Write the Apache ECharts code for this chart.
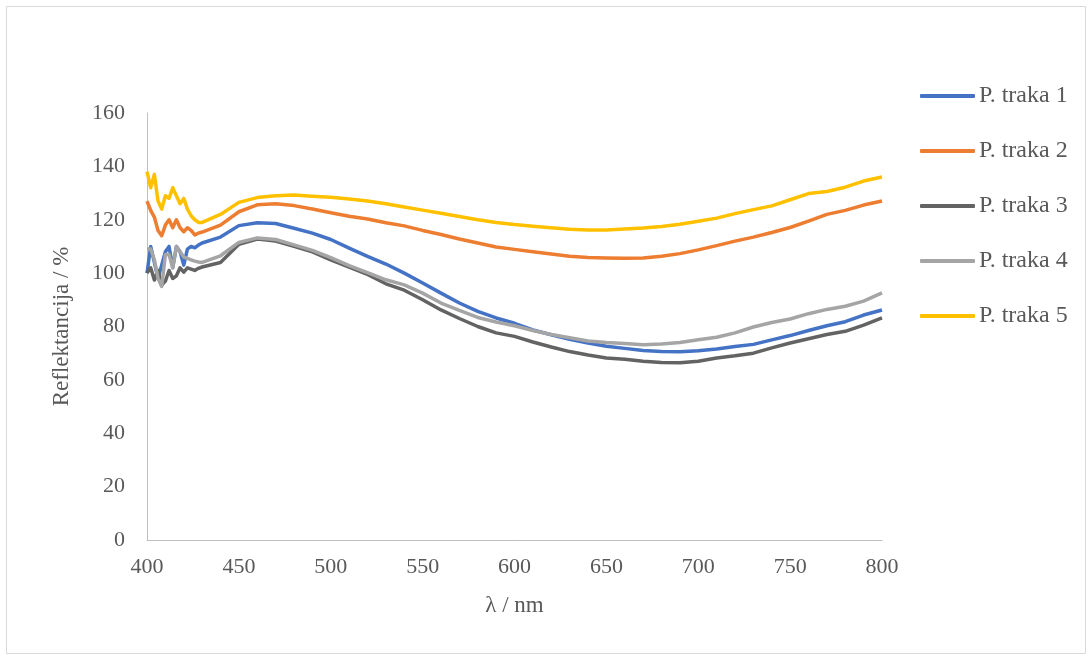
<!DOCTYPE html>
<html>
<head>
<meta charset="utf-8">
<script src="https://cdn.jsdelivr.net/npm/echarts@6/dist/echarts.min.js"></script>
<style>
html,body{margin:0;padding:0;background:#fff;}
#chart{width:1092px;height:660px;}
</style>
</head>
<body>
<div id="chart"></div>
<script>
const wavelengths = [400,402,404,406,408,410,412,414,416,418,420,422,424,426,428,430,440,450,460,470,480,490,500,510,520,530,540,550,560,570,580,590,600,610,620,630,640,650,660,670,680,690,700,710,720,730,740,750,760,770,780,790,800];
const seriesNames = ['P. traka 1','P. traka 2','P. traka 3','P. traka 4','P. traka 5'];
const traka1 = [100,110,104,98,103,108,110,102,110,108,103,109,110,109.5,110.5,111.3,113.5,117.8,118.9,118.6,116.8,115,112.6,109.4,106.3,103.4,100,96.3,92.5,88.8,85.7,83.2,81.2,78.7,76.9,75.2,73.8,72.6,71.8,71,70.6,70.5,70.9,71.6,72.5,73.3,75,76.6,78.5,80.3,81.8,84.3,86.2];
const traka2 = [127,123.5,121,116,114,118,120,117,120,117,115.5,117,116,114.3,115,115.4,118,123,125.6,126,125.3,124,122.6,121.3,120.3,118.9,117.7,116,114.5,112.8,111.3,109.8,108.9,108,107.2,106.3,105.9,105.7,105.6,105.7,106.3,107.3,108.7,110.3,112,113.5,115.2,117.1,119.5,122,123.5,125.5,127];
const traka3 = [100,102,97.4,101,95.5,97,101,98,99,102,100.4,102,101.5,101,101.8,102.3,104,110.8,112.8,112,110,108,105,102.2,99.5,96,93.6,90,86.2,83,80,77.6,76.3,74.2,72.3,70.6,69.3,68.2,67.7,67,66.5,66.4,67,68.2,69,70,72,73.8,75.4,77,78.2,80.5,83.2];
const traka4 = [109,109,105,98,95,107,107,102,110,108,106,105.5,105,104.5,104.2,104,106.5,111.5,113.2,112.6,110.6,108.5,105.8,102.8,100.2,97.5,95.6,92.5,88.8,86,83.4,81.7,80.3,78.5,77,75.8,74.6,74,73.6,73.2,73.4,74,75,76,77.6,79.8,81.5,82.8,84.8,86.4,87.6,89.5,92.6];
const traka5 = [138,132,137,127,124,129,128,132,129,126,128,124,121.5,120,119,119,122,126.5,128.3,129,129.3,128.8,128.4,127.8,127,126,124.8,123.6,122.4,121.2,120,119,118.2,117.6,117,116.4,116.2,116.2,116.5,116.9,117.5,118.3,119.4,120.6,122.3,123.8,125.2,127.5,129.8,130.6,132.2,134.5,136];
const colors = ['#4472C4','#ED7D31','#636363','#A5A5A5','#FFC000'];
const allValues = [traka1,traka2,traka3,traka4,traka5];

const font = "'Liberation Serif','Times New Roman',serif";
const chart = echarts.init(document.getElementById('chart'));
chart.setOption({
  animation:false,
  backgroundColor:'#fff',
  graphic:[{type:'rect',shape:{x:6.5,y:6.5,width:1079,height:647},style:{fill:'none',stroke:'#d9d9d9',lineWidth:1},silent:true}],
  grid:{left:147,right:210,top:113,bottom:120,containLabel:false},
  legend:{
    orient:'vertical',left:915,top:79,itemWidth:55,itemHeight:4,itemGap:31,
    icon:'roundRect',
    textStyle:{fontFamily:font,fontSize:24,color:'#595959',padding:[0,0,0,-1]},
    data:seriesNames
  },
  xAxis:{
    type:'value',min:400,max:800,interval:50,
    name:'λ / nm',nameLocation:'middle',nameGap:54,
    nameTextStyle:{fontFamily:font,fontSize:23,color:'#595959'},
    axisLine:{show:true,lineStyle:{color:'#bfbfbf',width:1}},
    axisTick:{show:false},splitLine:{show:false},
    axisLabel:{fontFamily:font,fontSize:22,color:'#595959',margin:16}
  },
  yAxis:{
    type:'value',min:0,max:160,interval:20,
    name:'Reflektancija / %',nameLocation:'middle',nameGap:74,
    nameTextStyle:{fontFamily:font,fontSize:23,color:'#595959'},
    axisLine:{show:true,lineStyle:{color:'#bfbfbf',width:1}},
    axisTick:{show:false},splitLine:{show:false},
    axisLabel:{fontFamily:font,fontSize:22,color:'#595959',margin:22}
  },
  series: seriesNames.map((n,k)=>({
    name:n,type:'line',showSymbol:false,symbol:'none',
    data: wavelengths.map((w,i)=>[w,allValues[k][i]]),
    lineStyle:{width:3.5,color:colors[k],join:'round'},itemStyle:{color:colors[k]}
  }))
});
</script>
</body>
</html>
